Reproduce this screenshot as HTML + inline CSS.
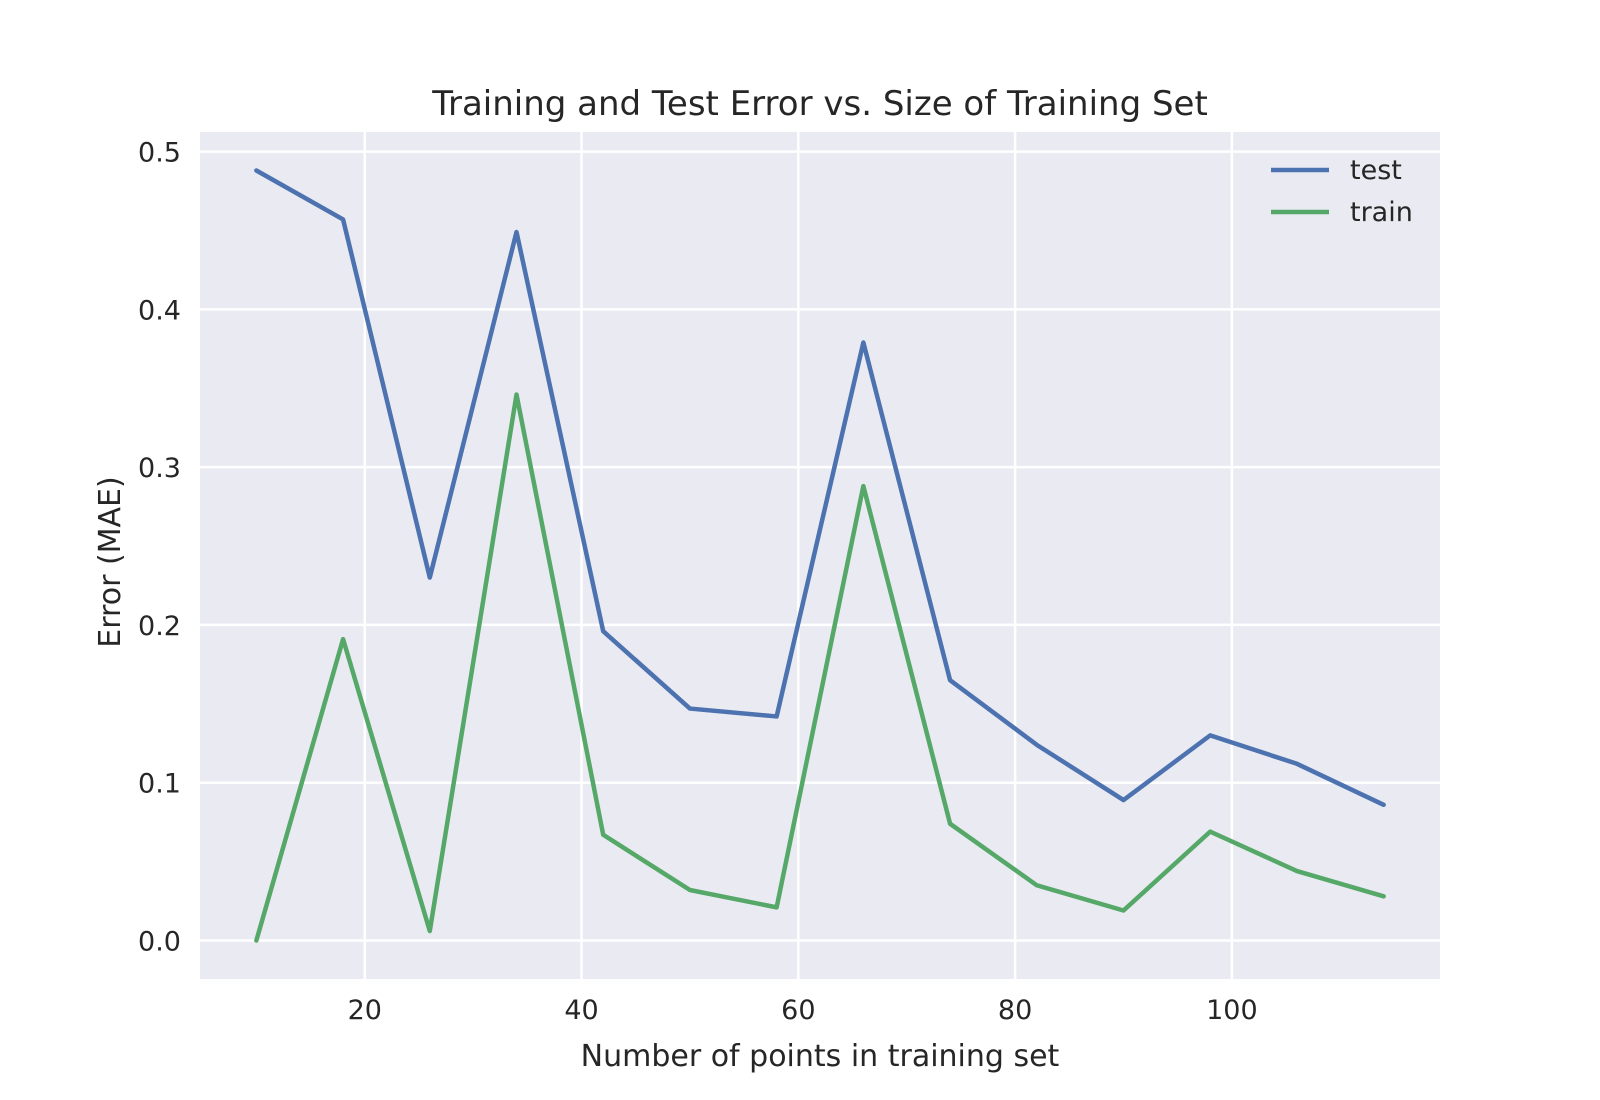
<!DOCTYPE html>
<html><head><meta charset="utf-8"><style>body{margin:0;background:#fff}svg{display:block;font-family:"DejaVu Sans","Liberation Sans",sans-serif}</style></head>
<body>
<svg id="chart" width="1600" height="1100"></svg>
<script>
const xs = [10,18,26,34,42,50,58,66,74,82,90,98,106,114];
const testVals = [0.488,0.457,0.230,0.449,0.196,0.147,0.142,0.379,0.165,0.124,0.089,0.130,0.112,0.086];
const trainVals = [0.0,0.191,0.006,0.346,0.067,0.032,0.021,0.288,0.074,0.035,0.019,0.069,0.044,0.028];
const xTicks = [20,40,60,80,100];
const yTicks = [0.0,0.1,0.2,0.3,0.4,0.5];

const NS="http://www.w3.org/2000/svg", svg=document.getElementById('chart');
const L=200,R=1440,T=132,B=979;
const xmin=4.8,xmax=119.2,ymin=-0.0244,ymax=0.5124;
const sx=v=>L+(v-xmin)/(xmax-xmin)*(R-L);
const sy=v=>B-(v-ymin)/(ymax-ymin)*(B-T);
function mk(tag,attrs,text){const e=document.createElementNS(NS,tag);for(const k in attrs)e.setAttribute(k,attrs[k]);if(text!==undefined)e.textContent=text;svg.appendChild(e);return e;}
let e=mk('rect',{x:L,y:T,width:R-L,height:B-T,fill:'#eaeaf2'});


xTicks.forEach(t=>{
  let g=mk('line',{x1:sx(t),x2:sx(t),y1:T,y2:B,stroke:'#fff','stroke-width':2.5});
  
  
  let l=mk('text',{x:sx(t),y:1000,'font-size':27,fill:'#262626','text-anchor':'middle','dominant-baseline':'hanging'},String(t));
  
  
});
yTicks.forEach(t=>{
  let g=mk('line',{x1:L,x2:R,y1:sy(t),y2:sy(t),stroke:'#fff','stroke-width':2.5});
  
  
  let l=mk('text',{x:181,y:sy(t)+10,'font-size':27,fill:'#262626','text-anchor':'end'},t.toFixed(1));
  
  
});
function series(vals,color,name){
  const p=mk('polyline',{points:xs.map((x,i)=>sx(x)+','+sy(vals[i])).join(' '),fill:'none',stroke:color,'stroke-width':4.5,'stroke-linejoin':'round','stroke-linecap':'round'});
  
  
}
series(testVals,'#4c72b0','test-line');
series(trainVals,'#55a868','train-line');
[['test','#4c72b0',170],['train','#55a868',212]].forEach(([n,c,y])=>{
  let l=mk('line',{x1:1271,x2:1329,y1:y,y2:y,stroke:c,'stroke-width':4.5});
  
  
  let t=mk('text',{x:1350,y:y+9,'font-size':27,fill:'#262626'},n);
  
  
});
e=mk('text',{x:820,y:115,'font-size':34,fill:'#262626','text-anchor':'middle'},'Training and Test Error vs. Size of Training Set');


e=mk('text',{x:820,y:1066,'font-size':30,fill:'#262626','text-anchor':'middle'},'Number of points in training set');


e=mk('text',{x:0,y:0,'font-size':30,fill:'#262626','text-anchor':'middle',transform:'translate(120,562) rotate(-90)'},'Error (MAE)');


</script>
</body></html>
